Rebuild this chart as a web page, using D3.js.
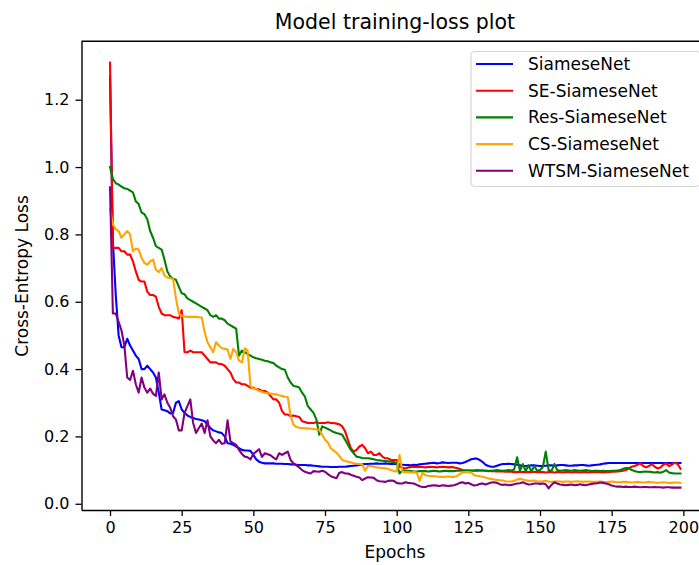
<!DOCTYPE html>
<html><head><meta charset="utf-8">
<script src="https://cdn.jsdelivr.net/npm/d3@7"></script>
<style>body{margin:0;background:#fff}svg{display:block;font-family:"DejaVu Sans",sans-serif}</style>
</head><body><svg id="c" width="699" height="565"></svg>
<script>
const seriesNames = ["SiameseNet","SE-SiameseNet","Res-SiameseNet","CS-SiameseNet","WTSM-SiameseNet"];
const seriesColors = ["blue","red","green","orange","purple"];
const xTicks = [0,25,50,75,100,125,150,175,200];
const yTicks = [0.0,0.2,0.4,0.6,0.8,1.0,1.2];
const epochs = d3.range(200);

const siamese = [1.27,0.78,0.62,0.50,0.465,0.465,0.49,0.47,0.455,0.44,
0.43,0.40,0.40,0.41,0.40,0.39,0.375,0.33,0.28,0.278,
0.275,0.268,0.27,0.30,0.305,0.28,0.27,0.262,0.258,0.255,
0.252,0.25,0.248,0.245,0.235,0.225,0.218,0.215,0.212,0.21,
0.20,0.18,0.178,0.175,0.17,0.165,0.16,0.158,0.158,0.157,
0.145,0.132,0.125,0.122,0.12,0.12,0.12,0.12,0.119,0.119,
0.119,0.118,0.118,0.117,0.117,0.116,0.115,0.115,0.115,0.114,
0.114,0.113,0.112,0.111,0.11,0.11,0.11,0.109,0.109,0.109,
0.11,0.11,0.11,0.111,0.112,0.113,0.114,0.115,0.117,0.118,
0.118,0.119,0.119,0.12,0.119,0.119,0.12,0.119,0.118,0.119,
0.118,0.117,0.116,0.115,0.115,0.114,0.116,0.115,0.117,0.118,
0.119,0.12,0.121,0.122,0.12,0.121,0.123,0.122,0.121,0.122,
0.122,0.122,0.12,0.121,0.124,0.128,0.132,0.134,0.134,0.13,
0.124,0.116,0.112,0.11,0.11,0.113,0.116,0.118,0.118,0.119,
0.118,0.117,0.116,0.114,0.112,0.112,0.113,0.114,0.114,0.113,
0.112,0.112,0.113,0.114,0.114,0.113,0.114,0.115,0.115,0.114,
0.113,0.113,0.114,0.114,0.115,0.115,0.114,0.113,0.114,0.115,
0.116,0.117,0.119,0.12,0.121,0.121,0.121,0.121,0.121,0.121,
0.121,0.121,0.121,0.121,0.121,0.121,0.121,0.121,0.121,0.121,
0.121,0.121,0.121,0.121,0.121,0.121,0.121,0.121,0.121,0.121];

const seSiamese = [1.31,0.76,0.76,0.76,0.75,0.75,0.74,0.74,0.72,0.69,
0.665,0.66,0.66,0.63,0.62,0.62,0.615,0.585,0.565,0.56,
0.56,0.56,0.555,0.553,0.55,0.575,0.45,0.45,0.455,0.45,
0.45,0.45,0.45,0.44,0.43,0.42,0.42,0.42,0.415,0.415,
0.41,0.40,0.39,0.37,0.36,0.36,0.355,0.355,0.35,0.345,
0.345,0.34,0.34,0.335,0.335,0.33,0.32,0.31,0.31,0.30,
0.275,0.265,0.265,0.26,0.262,0.26,0.258,0.245,0.243,0.24,
0.24,0.24,0.242,0.24,0.24,0.24,0.242,0.24,0.24,0.238,
0.236,0.23,0.215,0.19,0.165,0.155,0.16,0.17,0.175,0.165,
0.15,0.155,0.145,0.145,0.15,0.14,0.135,0.135,0.13,0.13,
0.13,0.11,0.107,0.105,0.108,0.109,0.109,0.109,0.11,0.109,
0.108,0.109,0.11,0.109,0.108,0.109,0.11,0.109,0.108,0.109,
0.108,0.106,0.103,0.10,0.099,0.099,0.098,0.099,0.1,0.099,
0.099,0.098,0.098,0.097,0.097,0.096,0.096,0.096,0.095,0.095,
0.095,0.094,0.094,0.095,0.094,0.094,0.094,0.094,0.095,0.094,
0.094,0.094,0.093,0.094,0.094,0.093,0.094,0.094,0.093,0.094,
0.094,0.093,0.094,0.094,0.093,0.094,0.094,0.093,0.094,0.094,
0.094,0.094,0.093,0.094,0.094,0.095,0.095,0.096,0.097,0.098,
0.10,0.105,0.11,0.112,0.116,0.12,0.112,0.108,0.112,0.118,
0.11,0.105,0.108,0.116,0.12,0.112,0.116,0.122,0.118,0.104];

const resSiamese = [1.0,0.965,0.952,0.948,0.942,0.937,0.935,0.93,0.925,0.898,
0.89,0.865,0.86,0.845,0.81,0.79,0.765,0.76,0.755,0.725,
0.69,0.675,0.668,0.665,0.645,0.625,0.622,0.61,0.605,0.60,
0.595,0.59,0.585,0.58,0.575,0.56,0.555,0.56,0.55,0.55,
0.545,0.535,0.53,0.525,0.52,0.44,0.455,0.45,0.445,0.44,
0.435,0.432,0.43,0.428,0.425,0.423,0.42,0.418,0.41,0.405,
0.40,0.398,0.375,0.36,0.35,0.348,0.345,0.33,0.318,0.29,
0.28,0.27,0.25,0.205,0.23,0.226,0.222,0.218,0.213,0.21,
0.208,0.205,0.19,0.175,0.16,0.15,0.14,0.138,0.136,0.135,
0.135,0.134,0.132,0.13,0.129,0.128,0.127,0.126,0.125,0.124,
0.12,0.09,0.10,0.098,0.097,0.097,0.096,0.096,0.097,0.097,
0.097,0.096,0.097,0.098,0.097,0.096,0.097,0.098,0.097,0.097,
0.097,0.098,0.098,0.099,0.099,0.099,0.099,0.098,0.098,0.099,
0.099,0.098,0.097,0.098,0.099,0.1,0.099,0.098,0.099,0.1,
0.099,0.102,0.138,0.098,0.118,0.097,0.114,0.096,0.112,0.098,
0.10,0.11,0.155,0.1,0.097,0.118,0.1,0.098,0.099,0.1,
0.099,0.098,0.1,0.099,0.098,0.099,0.1,0.099,0.097,0.098,
0.098,0.097,0.098,0.097,0.097,0.098,0.098,0.099,0.1,0.104,
0.106,0.105,0.1,0.097,0.095,0.094,0.095,0.096,0.095,0.094,
0.093,0.094,0.092,0.095,0.1,0.093,0.091,0.09,0.09,0.09];

const csSiamese = [0.875,0.83,0.815,0.81,0.79,0.80,0.81,0.80,0.75,0.758,
0.755,0.73,0.715,0.71,0.72,0.725,0.695,0.688,0.70,0.678,
0.672,0.67,0.668,0.61,0.565,0.558,0.556,0.555,0.555,0.555,
0.555,0.554,0.553,0.51,0.48,0.465,0.45,0.48,0.47,0.462,
0.46,0.458,0.43,0.46,0.45,0.425,0.42,0.462,0.455,0.35,
0.342,0.34,0.335,0.333,0.33,0.328,0.327,0.326,0.325,0.322,
0.32,0.318,0.317,0.26,0.235,0.228,0.226,0.225,0.224,0.224,
0.223,0.222,0.221,0.219,0.205,0.19,0.182,0.165,0.158,0.152,
0.142,0.13,0.127,0.125,0.123,0.12,0.119,0.118,0.117,0.098,
0.113,0.112,0.11,0.108,0.107,0.106,0.105,0.104,0.1,0.097,
0.096,0.145,0.095,0.094,0.094,0.093,0.094,0.093,0.068,0.092,
0.085,0.083,0.082,0.082,0.081,0.08,0.08,0.08,0.081,0.08,
0.08,0.082,0.088,0.093,0.094,0.094,0.093,0.085,0.083,0.082,
0.08,0.078,0.075,0.074,0.072,0.071,0.07,0.069,0.067,0.066,
0.066,0.068,0.072,0.074,0.072,0.07,0.068,0.068,0.069,0.067,
0.066,0.067,0.068,0.066,0.065,0.066,0.067,0.066,0.065,0.066,
0.066,0.065,0.066,0.067,0.066,0.065,0.066,0.066,0.065,0.065,
0.065,0.066,0.065,0.064,0.065,0.066,0.065,0.064,0.064,0.065,
0.065,0.064,0.063,0.064,0.065,0.064,0.063,0.064,0.065,0.064,
0.063,0.062,0.063,0.064,0.063,0.062,0.062,0.063,0.063,0.062];

const wtsmSiamese = [0.94,0.565,0.565,0.54,0.515,0.47,0.375,0.368,0.395,0.355,
0.33,0.375,0.345,0.33,0.342,0.327,0.32,0.39,0.31,0.325,
0.30,0.285,0.26,0.25,0.218,0.218,0.27,0.29,0.31,0.24,
0.21,0.225,0.238,0.21,0.248,0.20,0.188,0.18,0.19,0.178,
0.18,0.248,0.185,0.18,0.175,0.16,0.148,0.14,0.138,0.132,
0.148,0.155,0.162,0.139,0.15,0.147,0.144,0.137,0.132,0.15,
0.145,0.15,0.155,0.13,0.12,0.114,0.108,0.10,0.095,0.092,
0.09,0.097,0.096,0.095,0.098,0.095,0.088,0.082,0.079,0.076,
0.092,0.094,0.09,0.09,0.086,0.083,0.08,0.078,0.07,0.075,
0.079,0.078,0.077,0.07,0.067,0.066,0.065,0.068,0.069,0.068,
0.062,0.06,0.06,0.064,0.062,0.061,0.06,0.056,0.052,0.05,
0.05,0.053,0.054,0.055,0.054,0.053,0.055,0.054,0.053,0.054,
0.055,0.058,0.062,0.064,0.06,0.062,0.058,0.054,0.056,0.059,
0.06,0.057,0.06,0.063,0.064,0.062,0.058,0.056,0.057,0.055,
0.056,0.058,0.06,0.061,0.064,0.06,0.057,0.058,0.06,0.06,
0.059,0.06,0.058,0.046,0.056,0.064,0.06,0.057,0.056,0.055,
0.056,0.057,0.055,0.056,0.058,0.056,0.055,0.057,0.059,0.06,
0.061,0.063,0.062,0.06,0.058,0.054,0.052,0.051,0.051,0.05,
0.051,0.05,0.05,0.051,0.05,0.049,0.05,0.05,0.049,0.049,
0.05,0.049,0.049,0.048,0.049,0.049,0.048,0.048,0.048,0.048];

const allSeries = [siamese, seSiamese, resSiamese, csSiamese, wtsmSiamese];

const svg = d3.select("#c");
const L = 81.5, R = 709, T = 41.3, B = 510;
const x = d3.scaleLinear().domain([-9.95, 208.95]).range([L, R]);
const y = d3.scaleLinear().domain([-0.0185, 1.3735]).range([B, T]);

svg.append("defs").append("clipPath").attr("id","clip")
  .append("rect").attr("x",L).attr("y",T).attr("width",R-L).attr("height",B-T);

const line = d3.line().x((d,i)=>x(epochs[i])).y(d=>y(d));
const g = svg.append("g").attr("clip-path","url(#clip)");
allSeries.forEach((s,k)=>{
  g.append("path").datum(s).attr("d",line).attr("fill","none")
   .attr("stroke",seriesColors[k]).attr("stroke-width",2.1)
   .attr("stroke-linejoin","round").attr("stroke-linecap","square");
});

// axes
const xAxis = d3.axisBottom(x).tickValues(xTicks).tickSize(6).tickPadding(6).tickSizeOuter(0).tickFormat(d3.format("d"));
const yAxis = d3.axisLeft(y).tickValues(yTicks).tickSize(6).tickPadding(6).tickSizeOuter(0).tickFormat(d3.format(".1f"));
const gx = svg.append("g").attr("transform",`translate(0,${B})`).call(xAxis);
const gy = svg.append("g").attr("transform",`translate(${L},0)`).call(yAxis);
[gx,gy].forEach(a=>{
  a.selectAll("text").attr("font-size",16).attr("font-family","DejaVu Sans").attr("fill","#000");
  a.selectAll("line").attr("stroke","#000").attr("stroke-width",1.3);
  a.select(".domain").attr("stroke","#000").attr("stroke-width",1.4);
});
svg.append("line").attr("x1",L).attr("x2",R).attr("y1",T).attr("y2",T).attr("stroke","#000").attr("stroke-width",1.4);

// labels
svg.append("text").attr("x",395).attr("y",29).attr("text-anchor","middle")
  .attr("font-size",20.5).attr("fill","#000").text("Model training-loss plot");
svg.append("text").attr("x",395).attr("y",558).attr("text-anchor","middle")
  .attr("font-size",17).attr("fill","#000").text("Epochs");
svg.append("text").attr("transform","translate(28,276) rotate(-90)").attr("text-anchor","middle")
  .attr("font-size",17).attr("fill","#000").text("Cross-Entropy Loss");

// legend
const lg = svg.append("g");
lg.append("rect").attr("x",471).attr("y",51.5).attr("width",229).attr("height",135)
  .attr("rx",4).attr("fill","#fff").attr("fill-opacity",0.8).attr("stroke","#d5d5d5").attr("stroke-width",1.2);
seriesNames.forEach((n,k)=>{
  const cy = 64 + k*26.7;
  lg.append("line").attr("x1",476).attr("x2",513).attr("y1",cy).attr("y2",cy)
    .attr("stroke",seriesColors[k]).attr("stroke-width",2.1);
  lg.append("text").attr("x",528).attr("y",cy).attr("dy","0.35em")
    .attr("font-size",17).attr("fill","#000").text(n);
});
</script></body></html>
